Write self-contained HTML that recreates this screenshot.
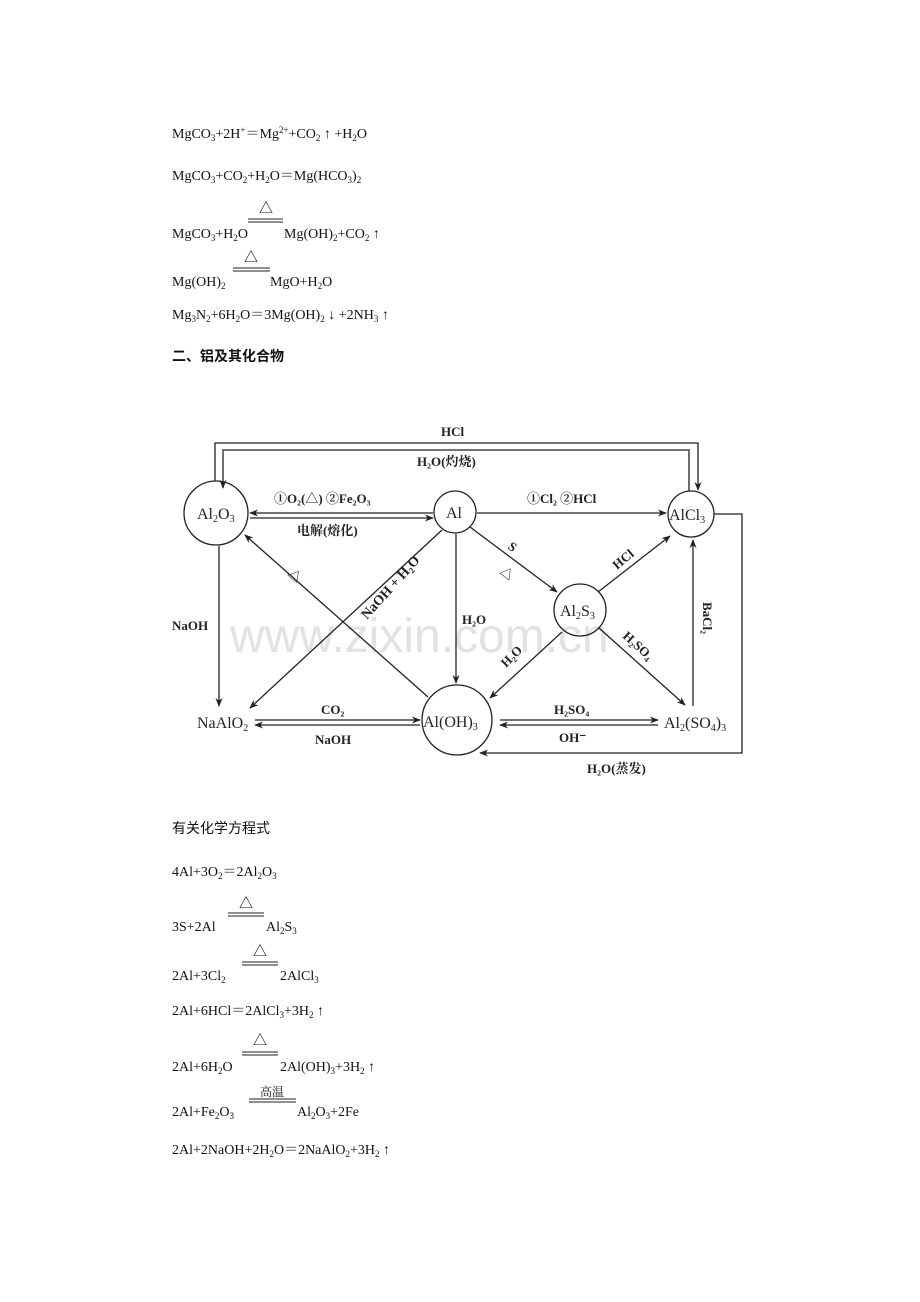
<!DOCTYPE html>
<html><head><meta charset="utf-8"><style>
html,body{margin:0;padding:0;background:#fff;}
svg{display:block;}
text{font-family:"Liberation Serif","Noto Serif CJK SC",serif;font-size:14px;fill:#111;}
.b{font-family:"Liberation Serif","Noto Sans CJK SC",sans-serif;font-weight:bold;font-size:14px;}
.d{font-family:"Liberation Serif","Noto Serif CJK SC",serif;font-weight:bold;font-size:13px;fill:#222;}
.n{font-family:"Liberation Serif","Noto Serif CJK SC",serif;font-size:16px;fill:#222;}
.c{font-family:"Liberation Sans","Noto Sans CJK SC",sans-serif;font-size:14px;}
</style></head><body>
<svg width="920" height="1302" viewBox="0 0 920 1302" xmlns="http://www.w3.org/2000/svg">
<defs>
<marker id="a" viewBox="0 0 10 10" refX="9" refY="5" markerWidth="9" markerHeight="9" orient="auto-start-reverse" markerUnits="userSpaceOnUse"><path d="M0,1 L10,5 L0,9 L3,5 z" fill="#222"/></marker>
</defs>
<!-- top equations -->
<text x="172" y="138">MgCO<tspan font-size="9" dy="3">3</tspan><tspan dy="-3">+2H</tspan><tspan font-size="9" dy="-5">+</tspan><tspan dy="5">＝Mg</tspan><tspan font-size="9" dy="-5">2+</tspan><tspan dy="5">+CO</tspan><tspan font-size="9" dy="3">2</tspan><tspan dy="-3"> ↑ +H</tspan><tspan font-size="9" dy="3">2</tspan><tspan dy="-3">O</tspan></text>
<text x="172" y="180">MgCO<tspan font-size="9" dy="3">3</tspan><tspan dy="-3">+CO</tspan><tspan font-size="9" dy="3">2</tspan><tspan dy="-3">+H</tspan><tspan font-size="9" dy="3">2</tspan><tspan dy="-3">O＝Mg(HCO</tspan><tspan font-size="9" dy="3">3</tspan><tspan dy="-3">)</tspan><tspan font-size="9" dy="3">2</tspan></text>
<text x="259" y="213">△</text>
<line x1="248" y1="219" x2="283" y2="219" stroke="#222"/><line x1="248" y1="222" x2="283" y2="222" stroke="#222"/>
<text x="172" y="238">MgCO<tspan font-size="9" dy="3">3</tspan><tspan dy="-3">+H</tspan><tspan font-size="9" dy="3">2</tspan><tspan dy="-3">O</tspan></text>
<text x="284" y="238">Mg(OH)<tspan font-size="9" dy="3">2</tspan><tspan dy="-3">+CO</tspan><tspan font-size="9" dy="3">2</tspan><tspan dy="-3"> ↑</tspan></text>
<text x="244" y="262">△</text>
<line x1="233" y1="268" x2="270" y2="268" stroke="#222"/><line x1="233" y1="271" x2="270" y2="271" stroke="#222"/>
<text x="172" y="286">Mg(OH)<tspan font-size="9" dy="3">2</tspan></text>
<text x="270" y="286">MgO+H<tspan font-size="9" dy="3">2</tspan><tspan dy="-3">O</tspan></text>
<text x="172" y="319">Mg<tspan font-size="9" dy="3">3</tspan><tspan dy="-3">N</tspan><tspan font-size="9" dy="3">2</tspan><tspan dy="-3">+6H</tspan><tspan font-size="9" dy="3">2</tspan><tspan dy="-3">O＝3Mg(OH)</tspan><tspan font-size="9" dy="3">2</tspan><tspan dy="-3"> ↓ +2NH</tspan><tspan font-size="9" dy="3">3</tspan><tspan dy="-3"> ↑</tspan></text>
<text x="172" y="361" class="b">二、铝及其化合物</text>

<!-- diagram -->
<text x="230" y="652" style="font-family:'Liberation Sans',sans-serif;font-size:48px;fill:#e2e2e2;">www.zixin.com.cn</text>
<g stroke="#222" stroke-width="1.3" fill="none">
<circle cx="216" cy="513" r="32"/>
<circle cx="455" cy="512" r="21"/>
<circle cx="691" cy="514" r="23"/>
<circle cx="580" cy="610" r="26"/>
<circle cx="457" cy="720" r="35"/>
<polyline points="215,481 215,443 698,443 698,490" marker-end="url(#a)"/>
<polyline points="689,491 689,450 223,450 223,488" marker-end="url(#a)"/>
<polyline points="714,514 742,514 742,753 480,753" marker-end="url(#a)"/>
<line x1="433" y1="513" x2="250" y2="513" marker-end="url(#a)"/>
<line x1="250" y1="518" x2="433" y2="518" marker-end="url(#a)"/>
<line x1="477" y1="513" x2="666" y2="513" marker-end="url(#a)"/>
<line x1="470" y1="527" x2="557" y2="592" marker-end="url(#a)"/>
<line x1="598" y1="592" x2="670" y2="536" marker-end="url(#a)"/>
<line x1="599" y1="628" x2="685" y2="705" marker-end="url(#a)"/>
<line x1="562" y1="632" x2="490" y2="698" marker-end="url(#a)"/>
<line x1="456" y1="534" x2="456" y2="683" marker-end="url(#a)"/>
<line x1="442" y1="530" x2="250" y2="708" marker-end="url(#a)"/>
<line x1="428" y1="697" x2="245" y2="535" marker-end="url(#a)"/>
<line x1="219" y1="546" x2="219" y2="706" marker-end="url(#a)"/>
<line x1="255" y1="720" x2="420" y2="720" marker-end="url(#a)"/>
<line x1="420" y1="725" x2="255" y2="725" marker-end="url(#a)"/>
<line x1="500" y1="720" x2="658" y2="720" marker-end="url(#a)"/>
<line x1="658" y1="725" x2="500" y2="725" marker-end="url(#a)"/>
<line x1="693" y1="706" x2="693" y2="540" marker-end="url(#a)"/>
</g>
<text x="197" y="519" class="n">Al<tspan font-size="10" dy="3">2</tspan><tspan dy="-3">O</tspan><tspan font-size="10" dy="3">3</tspan></text>
<text x="446" y="518" class="n">Al</text>
<text x="669" y="520" class="n">AlCl<tspan font-size="10" dy="3">3</tspan></text>
<text x="560" y="616" class="n">Al<tspan font-size="10" dy="3">2</tspan><tspan dy="-3">S</tspan><tspan font-size="10" dy="3">3</tspan></text>
<text x="423" y="727" class="n">Al(OH)<tspan font-size="10" dy="3">3</tspan></text>
<text x="197" y="728" class="n">NaAlO<tspan font-size="10" dy="3">2</tspan></text>
<text x="664" y="728" class="n">Al<tspan font-size="10" dy="3">2</tspan><tspan dy="-3">(SO</tspan><tspan font-size="10" dy="3">4</tspan><tspan dy="-3">)</tspan><tspan font-size="10" dy="3">3</tspan></text>
<text x="441" y="436" class="d">HCl</text>
<text x="417" y="466" class="d">H₂O(灼烧)</text>
<text x="274" y="503" class="d">①O₂(△) ②Fe₂O₃</text>
<text x="297" y="535" class="d">电解(熔化)</text>
<text x="527" y="503" class="d">①Cl₂ ②HCl</text>
<text x="462" y="624" class="d">H₂O</text>
<text x="172" y="630" class="d">NaOH</text>
<text x="321" y="714" class="d">CO₂</text>
<text x="315" y="744" class="d">NaOH</text>
<text x="554" y="714" class="d">H₂SO₄</text>
<text x="559" y="742" class="d">OH⁻</text>
<text x="587" y="773" class="d">H₂O(蒸发)</text>
<text x="0" y="0" class="d" transform="translate(287,575) rotate(40)">△</text>
<text x="0" y="0" class="d" style="font-size:14px" transform="translate(367,620) rotate(-48)">NaOH + H₂O</text>
<text x="0" y="0" class="d" transform="translate(507,548) rotate(37)">S</text>
<text x="0" y="0" class="d" transform="translate(499,573) rotate(37)">△</text>
<text x="0" y="0" class="d" transform="translate(617,570) rotate(-40)">HCl</text>
<text x="0" y="0" class="d" transform="translate(506,668) rotate(-45)">H₂O</text>
<text x="0" y="0" class="d" transform="translate(622,637) rotate(42)">H₂SO₄</text>
<text x="0" y="0" class="d" transform="translate(703,602) rotate(90)">BaCl₂</text>

<!-- bottom equations -->
<text x="172" y="833" class="c">有关化学方程式</text>
<text x="172" y="876">4Al+3O<tspan font-size="9" dy="3">2</tspan><tspan dy="-3">＝2Al</tspan><tspan font-size="9" dy="3">2</tspan><tspan dy="-3">O</tspan><tspan font-size="9" dy="3">3</tspan></text>
<text x="239" y="908">△</text>
<line x1="228" y1="913" x2="264" y2="913" stroke="#222"/><line x1="228" y1="916" x2="264" y2="916" stroke="#222"/>
<text x="172" y="931">3S+2Al</text>
<text x="266" y="931">Al<tspan font-size="9" dy="3">2</tspan><tspan dy="-3">S</tspan><tspan font-size="9" dy="3">3</tspan></text>
<text x="253" y="956">△</text>
<line x1="242" y1="962" x2="278" y2="962" stroke="#222"/><line x1="242" y1="965" x2="278" y2="965" stroke="#222"/>
<text x="172" y="980">2Al+3Cl<tspan font-size="9" dy="3">2</tspan></text>
<text x="280" y="980">2AlCl<tspan font-size="9" dy="3">3</tspan></text>
<text x="172" y="1015">2Al+6HCl＝2AlCl<tspan font-size="9" dy="3">3</tspan><tspan dy="-3">+3H</tspan><tspan font-size="9" dy="3">2</tspan><tspan dy="-3"> ↑</tspan></text>
<text x="253" y="1045">△</text>
<line x1="242" y1="1052" x2="278" y2="1052" stroke="#222"/><line x1="242" y1="1055" x2="278" y2="1055" stroke="#222"/>
<text x="172" y="1071">2Al+6H<tspan font-size="9" dy="3">2</tspan><tspan dy="-3">O</tspan></text>
<text x="280" y="1071">2Al(OH)<tspan font-size="9" dy="3">3</tspan><tspan dy="-3">+3H</tspan><tspan font-size="9" dy="3">2</tspan><tspan dy="-3"> ↑</tspan></text>
<text x="260" y="1096" style="font-size:12px">高温</text>
<line x1="249" y1="1099" x2="296" y2="1099" stroke="#222"/><line x1="249" y1="1102" x2="296" y2="1102" stroke="#222"/>
<text x="172" y="1116">2Al+Fe<tspan font-size="9" dy="3">2</tspan><tspan dy="-3">O</tspan><tspan font-size="9" dy="3">3</tspan></text>
<text x="297" y="1116">Al<tspan font-size="9" dy="3">2</tspan><tspan dy="-3">O</tspan><tspan font-size="9" dy="3">3</tspan><tspan dy="-3">+2Fe</tspan></text>
<text x="172" y="1154">2Al+2NaOH+2H<tspan font-size="9" dy="3">2</tspan><tspan dy="-3">O＝2NaAlO</tspan><tspan font-size="9" dy="3">2</tspan><tspan dy="-3">+3H</tspan><tspan font-size="9" dy="3">2</tspan><tspan dy="-3"> ↑</tspan></text>
</svg>
</body></html>
